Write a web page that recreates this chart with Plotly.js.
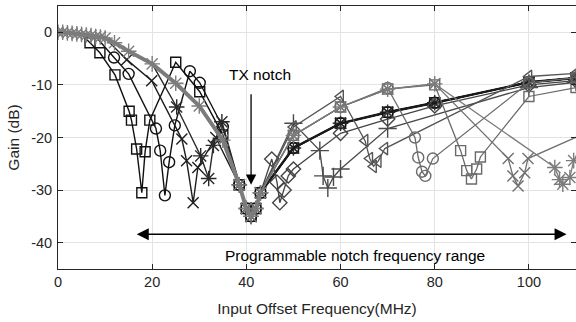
<!DOCTYPE html>
<html>
<head>
<meta charset="utf-8">
<script src="https://cdn.plot.ly/plotly-3.0.1.min.js"></script>
<style>html,body{margin:0;padding:0;background:#fff}#chart{width:576px;height:322px}</style>
</head>
<body>
<div id="chart"></div>
<script>
// ---- shared path (common low-frequency roll-off) ----
const startX = [0,1,2,3,4,5,6,7,8,9,10,12,15,20,25,30,35];
const startY = [0,0,-0.1,-0.2,-0.3,-0.4,-0.5,-0.6,-0.8,-0.9,-1.1,-2,-3.6,-6,-9.7,-14,-20.5];
// ---- TX notch ----
const txX = [38.5,40,41,42,43];
const txY = [-29,-33.5,-35,-33.5,-30.5];
// ---- recovery of the low-notch curves ----
const darkTailX = [50,60,70,80,100,110];
const darkTailY = [-22,-17.3,-15.2,-13.4,-9.5,-8.7];

// ---- low programmable notches (before TX notch) ----
const sqDarkX = [6.8,8.9,12.1,15.1,15.6,16.7,17.8,18.5,19.5,25,30.1,35];
const sqDarkY = [-2,-3.9,-8.1,-15,-16.7,-22.2,-30.5,-22.7,-16.7,-5.7,-11.3,-19.5];
const ciDarkX = [11.9,15,20.8,21.7,22.7,23.6,24.8,28,30.1,35];
const ciDarkY = [-4.8,-7.9,-18.3,-22.5,-31,-24.7,-17.7,-7.4,-9.6,-18];
const xDarkX = [14.6,19.9,26.3,27.3,28.7,29.7,33.5];
const xDarkY = [-5.2,-9.2,-20.3,-24.4,-32.4,-25.7,-20];
const stDarkX = [25.2,30.3,32,33,34.8];
const stDarkY = [-14.2,-23.5,-27.8,-21.5,-17];

// ---- high programmable notches (after TX notch) ----
const diX = [45.4,46.5,47.1,48,48.9,50,60,70,80,100,110];
const diY = [-24.1,-28.5,-32.4,-30,-27.3,-26,-19.2,-16.5,-14,-10,-9.2];
const plX = [50,55.6,56.3,57.3,58.5,60,70,100,110];
const plY = [-17.3,-22.5,-27.3,-29.6,-27.5,-26,-18.3,-10.5,-9.5];
const trX = [50,60,65.2,66.2,67,68,69.4,100,110];
const trY = [-18,-12.2,-20.6,-24,-25.5,-24.5,-22.1,-8.4,-7.8];
const ciGrX = [50,60,70,75.8,76.5,77.3,78,79.6,100,110];
const ciGrY = [-19.6,-14.2,-10.6,-20,-23.8,-26.5,-27.3,-24,-9.6,-8.6];
const sqGrX = [50,60,70,80,85.5,86.8,87.8,88.9,89.7,100,110];
const sqGrY = [-19.6,-14.2,-10.8,-10,-22.5,-26.3,-27.9,-26,-23.7,-12.2,-10.5];
const xGrX = [50,60,70,80,95.6,96.6,97.7,99.1,99.8,120];
const xGrY = [-19.6,-14.2,-10.8,-9.8,-24,-27.3,-29.2,-26.7,-24,-16];
const stGrX = [50,60,70,80,105.5,106.5,107.2,108.7,109.5,115];
const stGrY = [-19.6,-14.2,-10.8,-9.8,-25.7,-28,-28.9,-27.6,-24.4,-15];

const xTicks = [0,20,40,60,80,100];
const yTicks = [-40,-30,-20,-10,0];
const yTickText = ['-40','-30','-20','-10','0'];

function head(maxX){
  const hx=[],hy=[];
  startX.forEach((v,i)=>{ if(v<=maxX){hx.push(v);hy.push(startY[i]);} });
  return [hx,hy];
}
function trace(xs, ys, hidden, symbol, color, size, lw){
  return {
    x: xs, y: ys, type:'scatter', mode:'lines+markers',
    line:{color:color, width:lw||1.3},
    marker:{symbol:symbol, size:size||9, color:color,
            opacity: xs.map((v,i)=> i<hidden?0:1),
            line:{color:color, width:1.4}},
    hoverinfo:'skip', cliponaxis:true
  };
}
function darkCurve(maxX, ox, oy, symbol, color, size){
  const [hx,hy]=head(maxX);
  const xs=hx.concat(ox, txX, darkTailX);
  const ys=hy.concat(oy, txY, darkTailY);
  return trace(xs, ys, hx.length, symbol, color, size, 1.4);
}
function grayCurve(ox, oy, symbol, color, showHead, size){
  const xs=startX.concat(txX, ox);
  const ys=startY.concat(txY, oy);
  return trace(xs, ys, showHead?0:startX.length+txX.length, symbol, color, size, 1.3);
}

const data = [
  darkCurve(5, sqDarkX, sqDarkY, 'square-open', '#111111', 10),
  darkCurve(8, ciDarkX, ciDarkY, 'circle-open', '#111111', 11),
  darkCurve(10, xDarkX, xDarkY, 'x-thin-open', '#1e1e1e', 11),
  darkCurve(20, stDarkX, stDarkY, 'asterisk-open', '#2a2a2a', 13),
  // thick common recovery of the low-notch curves
  {x: txX.slice(-1).concat(darkTailX), y: txY.slice(-1).concat(darkTailY), type:'scatter', mode:'lines',
   line:{color:'#1a1a1a', width:2.4}, hoverinfo:'skip'},
  grayCurve(diX, diY, 'diamond-open', '#444444', false, 11),
  grayCurve(plX, plY, 'cross-thin-open', '#4a4a4a', false, 13),
  grayCurve(trX, trY, 'triangle-left-open', '#555555', false, 11),
  grayCurve(ciGrX, ciGrY, 'circle-open', '#6a6a6a', false, 11),
  grayCurve(sqGrX, sqGrY, 'square-open', '#6a6a6a', false, 10),
  grayCurve(xGrX, xGrY, 'x-thin-open', '#707070', false, 11),
  // thick shared path
  {x: startX.concat(txX), y: startY.concat(txY), type:'scatter', mode:'lines',
   line:{color:'#7c7c7c', width:4}, hoverinfo:'skip'},
  grayCurve(stGrX, stGrY, 'asterisk-open', '#7c7c7c', true, 13)
];

const font = 'Liberation Sans, Arial, Helvetica, sans-serif';
const axisCommon = {
  ticks:'inside', ticklen:5, tickwidth:1, tickcolor:'#262626',
  showline:true, linecolor:'#262626', linewidth:1, mirror:'ticks',
  showgrid:true, gridcolor:'#e3e3e3', gridwidth:1, zeroline:false,
  tickfont:{family:font, size:14.5, color:'#262626'}
};
const layout = {
  width:576, height:322,
  margin:{l:58, r:0, t:6, b:53},
  paper_bgcolor:'#ffffff', plot_bgcolor:'#ffffff',
  showlegend:false,
  xaxis: Object.assign({}, axisCommon, {
    range:[0,110], tickmode:'array', tickvals:xTicks,
    title:{text:'Input Offset Frequency(MHz)', font:{family:font, size:15.5, color:'#262626'}, standoff:13}
  }),
  yaxis: Object.assign({}, axisCommon, {
    range:[-45,5], tickmode:'array', tickvals:yTicks, ticktext:yTickText,
    ticklabelstandoff:2,
    title:{text:'Gain (dB)', font:{family:font, size:15.5, color:'#262626'}, standoff:7}
  }),
  annotations:[
    {x:41, y:-29, ax:41, ay:-11.5, xref:'x', yref:'y', axref:'x', ayref:'y',
     showarrow:true, arrowhead:2, arrowsize:1.6, arrowwidth:1.3, arrowcolor:'#000', text:''},
    {x:43, y:-8, xref:'x', yref:'y', showarrow:false, text:'TX notch',
     font:{family:font, size:15.5, color:'#000'}},
    {x:108, y:-38.4, ax:16.4, ay:-38.4, xref:'x', yref:'y', axref:'x', ayref:'y',
     showarrow:true, arrowhead:2, startarrowhead:2, arrowside:'end+start',
     arrowsize:1.6, startarrowsize:1.6, arrowwidth:1.5, arrowcolor:'#000', text:''},
    {x:63, y:-42.5, xref:'x', yref:'y', showarrow:false, text:'Programmable notch frequency range',
     font:{family:font, size:15.5, color:'#000'}}
  ]
};
Plotly.newPlot('chart', data, layout, {displayModeBar:false, staticPlot:true});
</script>
</body>
</html>
